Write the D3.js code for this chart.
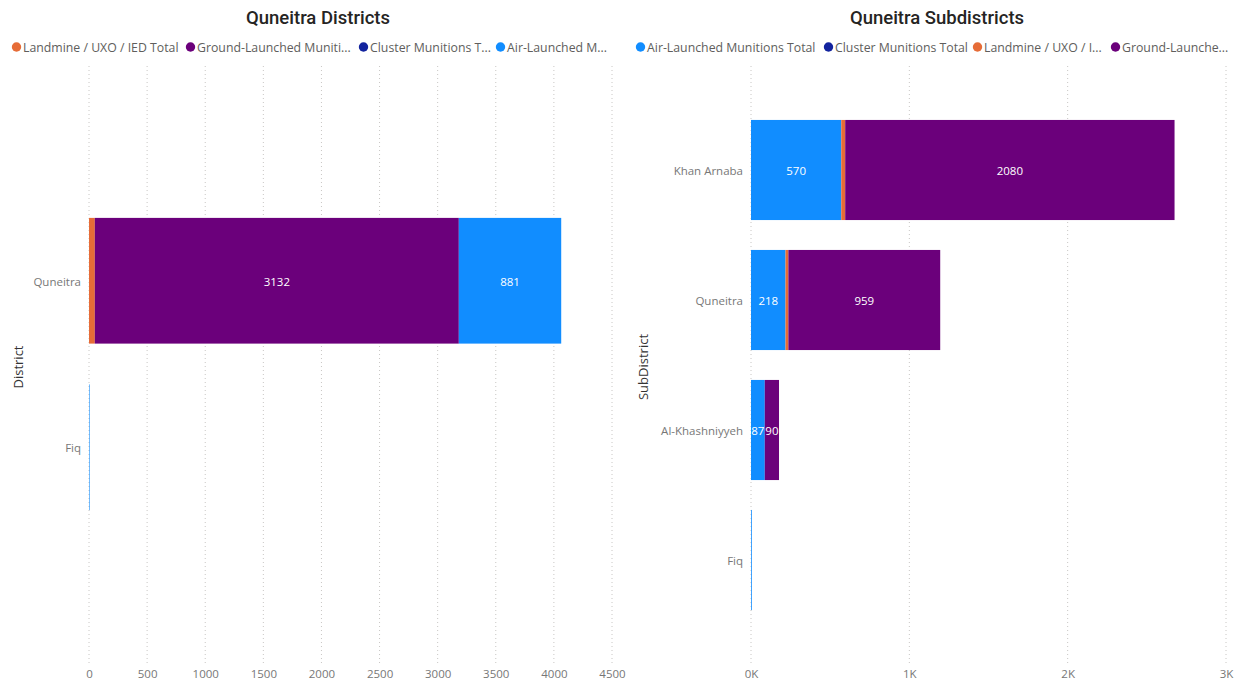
<!DOCTYPE html>
<html><head><meta charset="utf-8">
<script src="https://cdn.jsdelivr.net/npm/d3@7"></script>
<style>
html,body{margin:0;padding:0;background:#fff;}
svg{display:block;}
</style></head>
<body>
<svg id="chart" width="1237" height="683"></svg>
<script>
// ---- data ----
const districts = ["Quneitra", "Fiq"];
const districtLandmine = [50, 0];
const districtGround = [3132, 0];
const districtCluster = [0, 0];
const districtAir = [881, 5];
const districtTicks = [0, 500, 1000, 1500, 2000, 2500, 3000, 3500, 4000, 4500];

const subdistricts = ["Khan Arnaba", "Quneitra", "Al-Khashniyyeh", "Fiq"];
const subAir = [570, 218, 87, 5];
const subCluster = [0, 0, 0, 0];
const subLandmine = [25, 18, 0, 0];
const subGround = [2080, 959, 90, 0];
const subTicks = [0, 1000, 2000, 3000];
const subTickLabels = ["0K", "1K", "2K", "3K"];

const leftLegendLabels = ["Landmine / UXO / IED Total", "Ground-Launched Muniti...", "Cluster Munitions T...", "Air-Launched M..."];
const rightLegendLabels = ["Air-Launched Munitions Total", "Cluster Munitions Total", "Landmine / UXO / I...", "Ground-Launche..."];

const colors = {landmine: "#E66C37", ground: "#6B007B", cluster: "#12239E", air: "#118DFF"};

const svg = d3.select("#chart");
const FONT = "'Open Sans', 'Noto Sans', sans-serif";
const TITLE_FONT = "Roboto, 'DejaVu Sans', sans-serif";

function drawPanel(cfg) {
  const g = svg.append("g");
  // title
  g.append("text").attr("x", cfg.titleX).attr("y", 24).attr("text-anchor", "middle")
    .attr("font-family", TITLE_FONT).attr("font-size", 18.5).attr("font-weight", 500)
    .attr("fill", "#252423").text(cfg.title);
  // legend
  cfg.legendKeys.forEach((k, i) => {
    const x = cfg.legendX[i];
    g.append("circle").attr("cx", x + 4.5).attr("cy", 47).attr("r", 4.7).attr("fill", colors[k]);
    g.append("text").attr("x", x + 11).attr("y", 51.5).attr("font-family", FONT).attr("font-size", 12.3)
      .attr("fill", "#605E5C").text(cfg.legendLabels[i]);
  });

  const x = d3.scaleLinear().domain(cfg.xDomain).range(cfg.xRange);
  const y = d3.scaleBand().domain(cfg.categories).range(cfg.yRange)
    .paddingInner(cfg.padInner).paddingOuter(cfg.padInner / 2);

  // gridlines
  g.append("g").selectAll("line").data(cfg.ticks).join("line")
    .attr("x1", d => x(d)).attr("x2", d => x(d)).attr("y1", 66).attr("y2", 664)
    .attr("stroke", "#C8C6C4").attr("stroke-width", 1).attr("stroke-dasharray", "1,3");

  // x axis
  const xAxis = d3.axisBottom(x).tickValues(cfg.ticks).tickSize(0)
    .tickFormat((d, i) => cfg.tickLabels[i]);
  const ax = g.append("g").attr("transform", "translate(0,666)").call(xAxis);
  ax.select(".domain").remove();
  ax.selectAll("text").attr("font-family", FONT).attr("font-size", 11.5).attr("fill", "#777").attr("dy", "0.8em");

  // y axis
  const yAxis = d3.axisLeft(y).tickSize(0).tickPadding(8);
  const ay = g.append("g").attr("transform", `translate(${cfg.xRange[0]},0)`).call(yAxis);
  ay.select(".domain").remove();
  ay.selectAll("text").attr("font-family", FONT).attr("font-size", 11.5).attr("fill", "#777").attr("dy", "0.45em");

  // axis title
  g.append("text").attr("transform", `translate(${cfg.axisTitleX},367) rotate(-90)`)
    .attr("text-anchor", "middle").attr("font-family", FONT).attr("font-size", 13)
    .attr("fill", "#333").text(cfg.axisTitle);

  // stacked bars
  const rows = cfg.categories.map((c, i) => {
    const r = {cat: c};
    cfg.stackKeys.forEach(k => r[k] = cfg.values[k][i]);
    return r;
  });
  const stack = d3.stack().keys(cfg.stackKeys)(rows);
  const layers = g.append("g").selectAll("g").data(stack).join("g").attr("fill", d => colors[d.key]);
  layers.selectAll("rect").data(d => d.map(p => ({p, key: d.key}))).join("rect")
    .attr("x", d => x(d.p[0])).attr("width", d => Math.max(0, x(d.p[1]) - x(d.p[0])))
    .attr("y", d => y(d.p.data.cat)).attr("height", y.bandwidth());
  // labels
  const lbl = g.append("g");
  stack.forEach(layer => {
    layer.forEach(p => {
      const v = p[1] - p[0];
      if (v >= 80) {
        lbl.append("text").attr("x", (x(p[0]) + x(p[1])) / 2).attr("y", y(p.data.cat) + y.bandwidth() / 2)
          .attr("text-anchor", "middle").attr("dy", "0.45em")
          .attr("font-family", FONT).attr("font-size", 11.5).attr("fill", "#fff").text(v);
      }
    });
  });
}

drawPanel({
  title: "Quneitra Districts", titleX: 318,
  legendKeys: ["landmine", "ground", "cluster", "air"],
  legendLabels: leftLegendLabels,
  legendX: [12, 186, 359, 496],
  categories: districts,
  stackKeys: ["landmine", "ground", "cluster", "air"],
  values: {landmine: districtLandmine, ground: districtGround, cluster: districtCluster, air: districtAir},
  xDomain: [0, 4500], xRange: [89, 612],
  ticks: districtTicks, tickLabels: districtTicks.map(String),
  yRange: [197.5, 530.5], padInner: 0.245,
  axisTitle: "District", axisTitleX: 23
});

drawPanel({
  title: "Quneitra Subdistricts", titleX: 937,
  legendKeys: ["air", "cluster", "landmine", "ground"],
  legendLabels: rightLegendLabels,
  legendX: [636, 824, 973, 1111],
  categories: subdistricts,
  stackKeys: ["air", "cluster", "landmine", "ground"],
  values: {air: subAir, cluster: subCluster, landmine: subLandmine, ground: subGround},
  xDomain: [0, 3000], xRange: [751, 1226],
  ticks: subTicks, tickLabels: subTickLabels,
  yRange: [105, 625], padInner: 0.23,
  axisTitle: "SubDistrict", axisTitleX: 648
});
</script>
</body></html>
